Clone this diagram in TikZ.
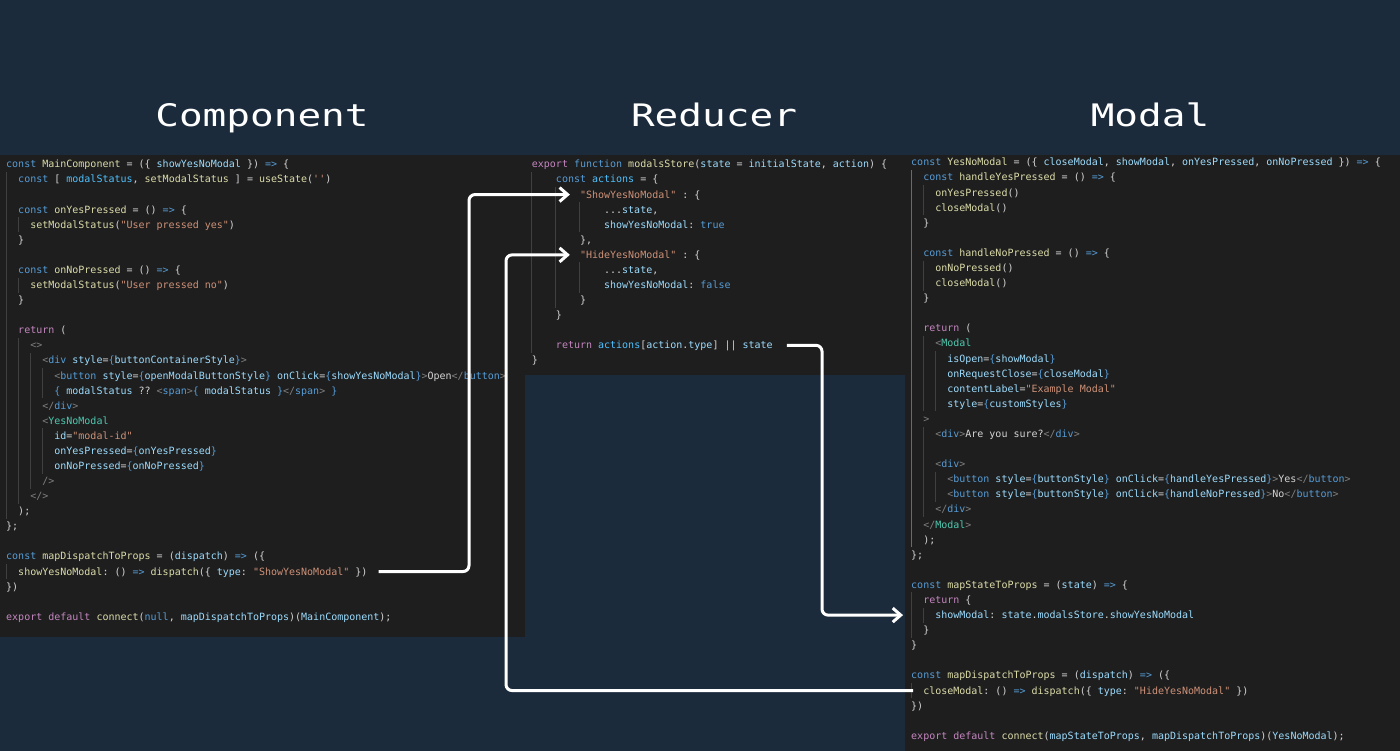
\documentclass[tikz,border=0pt]{standalone}
\usepackage{fontspec}
\setmonofont{DejaVu Sans Mono}
\newfontfamily\headfont[FakeStretch=1.27]{DejaVu Sans Mono}
\usetikzlibrary{arrows.meta,positioning}

\definecolor{bgnavy}{HTML}{1B2B3C}
\definecolor{editor}{HTML}{1E1E1E}
\definecolor{jfg}{HTML}{D4D4D4}
\definecolor{jkw}{HTML}{569CD6}
\definecolor{jctl}{HTML}{C586C0}
\definecolor{jfn}{HTML}{DCDCAA}
\definecolor{jvar}{HTML}{9CDCFE}
\definecolor{jcst}{HTML}{4FC1FF}
\definecolor{jstr}{HTML}{CE9178}
\definecolor{jtag}{HTML}{4EC9B0}
\definecolor{jpun}{HTML}{808080}
\definecolor{guidegray}{HTML}{404040}
\definecolor{guidelit}{HTML}{6A6A6A}

\newcommand\jkw[1]{\textcolor{jkw}{#1}}
\newcommand\jctl[1]{\textcolor{jctl}{#1}}
\newcommand\jfn[1]{\textcolor{jfn}{#1}}
\newcommand\jvar[1]{\textcolor{jvar}{#1}}
\newcommand\jcst[1]{\textcolor{jcst}{#1}}
\newcommand\jstr[1]{\textcolor{jstr}{#1}}
\newcommand\jtag[1]{\textcolor{jtag}{#1}}
\newcommand\jpun[1]{\textcolor{jpun}{#1}}

\begin{document}
\begin{tikzpicture}[x=1pt,y=-1pt]
    \tikzstyle{panel} = [fill=editor, draw=none, anchor=north west, inner sep=0pt]
    \tikzstyle{title} = [anchor=base, text=white, font=\headfont\fontsize{31}{36}\selectfont]
    \tikzstyle{code} = [anchor=base west, inner sep=0pt, text height=8pt, text depth=1pt, text=jfg, font=\ttfamily\fontsize{10}{12}\selectfont]
    \tikzstyle{guide} = [draw=guidegray, line width=1pt]
    \tikzstyle{guide lit} = [draw=guidelit, line width=1pt]
    \tikzstyle{flow} = [draw=white, line width=3pt, rounded corners=6pt, -{Straight Barb[length=8pt,width=14pt]}]

    \fill[bgnavy] (0,0) rectangle (1400,751);
    \useasboundingbox (0,0) rectangle (1400,751);

    \node [panel, minimum width=525pt, minimum height=482pt] (comp) at (0,155) {};
    \node [panel, minimum width=380pt, minimum height=220pt] (red) at (525,155) {};
    \node [panel, minimum width=495pt, minimum height=596pt] (modal) at (905,155) {};

    \node [title] (tcomp) at (262,127) {Component};
    \node [title] (tred) at (714,127) {Reducer};
    \node [title] (tmodal) at (1150,127) {Modal};

    % component
    \begin{scope}[shift={(6,167.9)}, x=6.02pt, y=-15.08pt]
    \foreach \c/\a/\b in {0/1/23, 0/27/27, 2/4/4, 2/8/8, 2/12/22, 4/13/21, 6/14/15, 6/18/20}
        \draw [guide] (\c,\a-0.73) -- (\c,\b+0.27);
    \node [code] (c0) at (0,0) {\jkw{const} \jfn{MainComponent} = (\{ \jvar{showYesNoModal} \}) \jkw{=>} \{};
    \node [code] (c1) at (2,1) {\jkw{const} [ \jcst{modalStatus}, \jfn{setModalStatus} ] = \jfn{useState}(\jstr{''})};
    \node [code] (c3) at (2,3) {\jkw{const} \jfn{onYesPressed} = () \jkw{=>} \{};
    \node [code] (c4) at (4,4) {\jfn{setModalStatus}(\jstr{"User pressed yes"})};
    \node [code] (c5) at (2,5) {\}};
    \node [code] (c7) at (2,7) {\jkw{const} \jfn{onNoPressed} = () \jkw{=>} \{};
    \node [code] (c8) at (4,8) {\jfn{setModalStatus}(\jstr{"User pressed no"})};
    \node [code] (c9) at (2,9) {\}};
    \node [code] (c11) at (2,11) {\jctl{return} (};
    \node [code] (c12) at (4,12) {\jpun{<>}};
    \node [code] (c13) at (6,13) {\jpun{<}\jkw{div} \jvar{style}=\jkw{\{}\jvar{buttonContainerStyle}\jkw{\}}\jpun{>}};
    \node [code] (c14) at (8,14) {\jpun{<}\jkw{button} \jvar{style}=\jkw{\{}\jvar{openModalButtonStyle}\jkw{\}} \jvar{onClick}=\jkw{\{}\jvar{showYesNoModal}\jkw{\}}\jpun{>}Open\jpun{</}\jkw{button}\jpun{>}};
    \node [code] (c15) at (8,15) {\jkw{\{} \jvar{modalStatus} ?? \jpun{<}\jkw{span}\jpun{>}\jkw{\{} \jvar{modalStatus} \jkw{\}}\jpun{</}\jkw{span}\jpun{>} \jkw{\}}};
    \node [code] (c16) at (6,16) {\jpun{</}\jkw{div}\jpun{>}};
    \node [code] (c17) at (6,17) {\jpun{<}\jtag{YesNoModal}};
    \node [code] (c18) at (8,18) {\jvar{id}=\jstr{"modal-id"}};
    \node [code] (c19) at (8,19) {\jvar{onYesPressed}=\jkw{\{}\jvar{onYesPressed}\jkw{\}}};
    \node [code] (c20) at (8,20) {\jvar{onNoPressed}=\jkw{\{}\jvar{onNoPressed}\jkw{\}}};
    \node [code] (c21) at (6,21) {\jpun{/>}};
    \node [code] (c22) at (4,22) {\jpun{</>}};
    \node [code] (c23) at (2,23) {);};
    \node [code] (c24) at (0,24) {\};};
    \node [code] (c26) at (0,26) {\jkw{const} \jfn{mapDispatchToProps} = (\jvar{dispatch}) \jkw{=>} (\{};
    \node [code] (c27) at (2,27) {\jfn{showYesNoModal}: () \jkw{=>} \jfn{dispatch}(\{ \jvar{type}: \jstr{"ShowYesNoModal"} \})};
    \node [code] (c28) at (0,28) {\})};
    \node [code] (c30) at (0,30) {\jctl{export} \jctl{default} \jfn{connect}(\jkw{null}, \jvar{mapDispatchToProps})(\jvar{MainComponent});};
    \end{scope}

    % reducer
    \begin{scope}[shift={(531.7,167.9)}, x=6.02pt, y=-15.08pt]
    \foreach \c/\a/\b in {0/1/12, 4/2/9, 8/3/4, 8/7/8}
        \draw [guide] (\c,\a-0.73) -- (\c,\b+0.27);
    \node [code] (r0) at (0,0) {\jctl{export} \jkw{function} \jfn{modalsStore}(\jvar{state} = \jvar{initialState}, \jvar{action}) \{};
    \node [code] (r1) at (4,1) {\jkw{const} \jcst{actions} = \{};
    \node [code] (r2) at (8,2) {\jstr{"ShowYesNoModal"} : \{};
    \node [code] (r3) at (12,3) {...\jvar{state},};
    \node [code] (r4) at (12,4) {\jvar{showYesNoModal}: \jkw{true}};
    \node [code] (r5) at (8,5) {\},};
    \node [code] (r6) at (8,6) {\jstr{"HideYesNoModal"} : \{};
    \node [code] (r7) at (12,7) {...\jvar{state},};
    \node [code] (r8) at (12,8) {\jvar{showYesNoModal}: \jkw{false}};
    \node [code] (r9) at (8,9) {\}};
    \node [code] (r10) at (4,10) {\}};
    \node [code] (r12) at (4,12) {\jctl{return} \jcst{actions}[\jvar{action}.\jvar{type}] || \jvar{state}};
    \node [code] (r13) at (0,13) {\}};
    \end{scope}

    % modal
    \begin{scope}[shift={(911,165.9)}, x=6.02pt, y=-15.09pt]
    \draw [guide lit] (0,0.27) -- (0,25.27);
    \foreach \c/\a/\b in {0/29/31, 0/35/35, 2/2/3, 2/7/8, 2/12/16, 2/18/23, 2/30/30, 4/13/16, 4/21/22}
        \draw [guide] (\c,\a-0.73) -- (\c,\b+0.27);
    \node [code] (m0) at (0,0) {\jkw{const} \jfn{YesNoModal} = (\{ \jvar{closeModal}, \jvar{showModal}, \jvar{onYesPressed}, \jvar{onNoPressed} \}) \jkw{=>} \{};
    \node [code] (m1) at (2,1) {\jkw{const} \jfn{handleYesPressed} = () \jkw{=>} \{};
    \node [code] (m2) at (4,2) {\jfn{onYesPressed}()};
    \node [code] (m3) at (4,3) {\jfn{closeModal}()};
    \node [code] (m4) at (2,4) {\}};
    \node [code] (m6) at (2,6) {\jkw{const} \jfn{handleNoPressed} = () \jkw{=>} \{};
    \node [code] (m7) at (4,7) {\jfn{onNoPressed}()};
    \node [code] (m8) at (4,8) {\jfn{closeModal}()};
    \node [code] (m9) at (2,9) {\}};
    \node [code] (m11) at (2,11) {\jctl{return} (};
    \node [code] (m12) at (4,12) {\jpun{<}\jtag{Modal}};
    \node [code] (m13) at (6,13) {\jvar{isOpen}=\jkw{\{}\jvar{showModal}\jkw{\}}};
    \node [code] (m14) at (6,14) {\jvar{onRequestClose}=\jkw{\{}\jvar{closeModal}\jkw{\}}};
    \node [code] (m15) at (6,15) {\jvar{contentLabel}=\jstr{"Example Modal"}};
    \node [code] (m16) at (6,16) {\jvar{style}=\jkw{\{}\jvar{customStyles}\jkw{\}}};
    \node [code] (m17) at (2,17) {\jpun{>}};
    \node [code] (m18) at (4,18) {\jpun{<}\jkw{div}\jpun{>}Are you sure?\jpun{</}\jkw{div}\jpun{>}};
    \node [code] (m20) at (4,20) {\jpun{<}\jkw{div}\jpun{>}};
    \node [code] (m21) at (6,21) {\jpun{<}\jkw{button} \jvar{style}=\jkw{\{}\jvar{buttonStyle}\jkw{\}} \jvar{onClick}=\jkw{\{}\jvar{handleYesPressed}\jkw{\}}\jpun{>}Yes\jpun{</}\jkw{button}\jpun{>}};
    \node [code] (m22) at (6,22) {\jpun{<}\jkw{button} \jvar{style}=\jkw{\{}\jvar{buttonStyle}\jkw{\}} \jvar{onClick}=\jkw{\{}\jvar{handleNoPressed}\jkw{\}}\jpun{>}No\jpun{</}\jkw{button}\jpun{>}};
    \node [code] (m23) at (4,23) {\jpun{</}\jkw{div}\jpun{>}};
    \node [code] (m24) at (2,24) {\jpun{</}\jtag{Modal}\jpun{>}};
    \node [code] (m25) at (2,25) {);};
    \node [code] (m26) at (0,26) {\};};
    \node [code] (m28) at (0,28) {\jkw{const} \jfn{mapStateToProps} = (\jvar{state}) \jkw{=>} \{};
    \node [code] (m29) at (2,29) {\jctl{return} \{};
    \node [code] (m30) at (4,30) {\jvar{showModal}: \jvar{state}.\jvar{modalsStore}.\jvar{showYesNoModal}};
    \node [code] (m31) at (2,31) {\}};
    \node [code] (m32) at (0,32) {\}};
    \node [code] (m34) at (0,34) {\jkw{const} \jfn{mapDispatchToProps} = (\jvar{dispatch}) \jkw{=>} (\{};
    \node [code] (m35) at (2,35) {\jfn{closeModal}: () \jkw{=>} \jfn{dispatch}(\{ \jvar{type}: \jstr{"HideYesNoModal"} \})};
    \node [code] (m36) at (0,36) {\})};
    \node [code] (m38) at (0,38) {\jctl{export} \jctl{default} \jfn{connect}(\jvar{mapStateToProps}, \jvar{mapDispatchToProps})(\jvar{YesNoModal});};
    \end{scope}

    % connectors
    \coordinate (bus1) at (469,0);
    \coordinate (bus2) at (506,0);
    \coordinate (bus3) at (822,0);
    \coordinate (s1) at ([xshift=11pt]c27.east);
    \coordinate (e2) at (m35.west -| modal.west);
    \coordinate (s3) at ([xshift=14pt]r12.east);
    \coordinate (e3) at (m30.west -| modal.west);

    \draw [flow] (s1) -- (s1 -| bus1) |- ([xshift=-10pt]r2.west);
    \draw [flow] ([xshift=8pt]e2) -- (e2 -| bus2) |- ([xshift=-10pt]r6.west);
    \draw [flow] (s3) -- (s3 -| bus3) |- ([xshift=-2pt]e3);
\end{tikzpicture}
\end{document}
